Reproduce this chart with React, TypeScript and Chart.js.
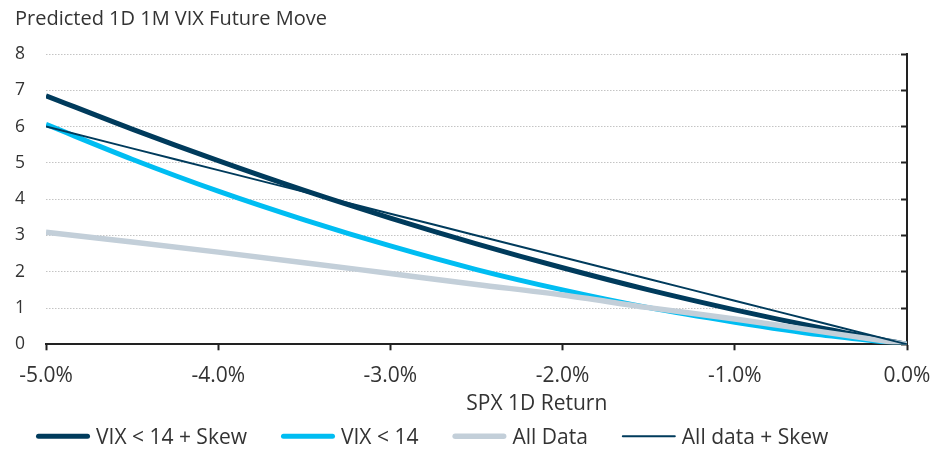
import { useEffect, useRef } from "react";
import { Chart, registerables } from "chart.js";

Chart.register(...registerables);

const TITLE = "Predicted 1D 1M VIX Future Move";
const X_TITLE = "SPX 1D Return";

// SPX 1D return (%)
const returns = [-5, -4.5, -4, -3.5, -3, -2.5, -2, -1.5, -1, -0.5, 0];
const xTickValues = [-5, -4, -3, -2, -1, 0];

const seriesLabels = ["VIX < 14 + Skew", "VIX < 14", "All Data", "All data + Skew"];
const vixLowSkew = [6.85, 5.93, 5.06, 4.24, 3.48, 2.77, 2.11, 1.5, 0.95, 0.45, 0];
const vixLow = [6.06, 5.1, 4.22, 3.43, 2.71, 2.06, 1.5, 1.01, 0.61, 0.26, 0];
const allData = [3.09, 2.82, 2.54, 2.25, 1.95, 1.65, 1.36, 1.01, 0.7, 0.35, 0];
const allDataSkew = [6.0, 5.4, 4.8, 4.2, 3.6, 3.0, 2.4, 1.8, 1.2, 0.6, 0];

const FONT = "'Open Sans', 'Noto Sans', sans-serif";
const TEXT = "#333333";
const NAVY = "#003B5C";
const CYAN = "#00BDF2";
const GRAY = "#C3CFD9";
const AXIS = "#222222";

const customLegend = {
  id: "customLegend",
  afterDraw(chart: any) {
    const { ctx, chartArea } = chart;
    ctx.save();
    ctx.font = `21px ${FONT}`;
    ctx.fillStyle = TEXT;
    ctx.textBaseline = "alphabetic";
    ctx.textAlign = "center";
    ctx.fillText(X_TITLE, chartArea.left + (chartArea.right - chartArea.left) * 0.57, chartArea.bottom + 65.5);
    ctx.textAlign = "left";
    let x = 36;
    const lineY = chartArea.bottom + 92;
    const baseY = chartArea.bottom + 99.5;
    chart.data.datasets.forEach((ds: any) => {
      ctx.beginPath();
      ctx.strokeStyle = ds.borderColor;
      ctx.lineWidth = ds.borderWidth;
      ctx.lineCap = "round";
      const half = ds.borderWidth / 2;
      ctx.moveTo(x + half, lineY);
      ctx.lineTo(x + 54 - half, lineY);
      ctx.stroke();
      ctx.fillStyle = TEXT;
      ctx.fillText(ds.label, x + 60, baseY);
      x += 60 + ctx.measureText(ds.label).width + 34;
    });
    ctx.restore();
  },
};

export default function App() {
  const ref = useRef<HTMLCanvasElement>(null);
  useEffect(() => {
    document.body.style.margin = "0";
    const mk = (ys: number[]) => returns.map((x, i) => ({ x, y: ys[i] }));
    const chart = new Chart(ref.current!, {
      type: "line",
      data: {
        datasets: [
          { label: seriesLabels[0], data: mk(vixLowSkew), borderColor: NAVY, borderWidth: 5, order: 3 },
          { label: seriesLabels[1], data: mk(vixLow), borderColor: CYAN, borderWidth: 5, order: 2 },
          { label: seriesLabels[2], data: mk(allData), borderColor: GRAY, borderWidth: 5.5, order: 1 },
          { label: seriesLabels[3], data: mk(allDataSkew), borderColor: NAVY, borderWidth: 2, order: 0 },
        ],
      },
      options: {
        animation: false,
        responsive: false,
        layout: { padding: { left: 15, right: 0, top: 0, bottom: 47.5 } },
        elements: {
          point: { radius: 0 },
          line: { cubicInterpolationMode: "monotone", fill: false },
        },
        plugins: {
          legend: { display: false },
          tooltip: { enabled: false },
          title: {
            display: true,
            text: TITLE,
            align: "start",
            color: TEXT,
            font: { family: FONT, size: 20, weight: "normal" },
            padding: { top: 7, bottom: 23 },
          },
        },
        scales: {
          x: {
            type: "linear",
            min: -5,
            max: 0,
            afterBuildTicks: (s: any) => {
              s.ticks = xTickValues.map((v) => ({ value: v }));
            },
            ticks: {
              callback: (v: any) => Number(v).toFixed(1) + "%",
              color: TEXT,
              font: { family: FONT, size: 21 },
              padding: 13,
              maxRotation: 0,
              autoSkip: false,
            },
            grid: { drawOnChartArea: false, drawTicks: true, tickLength: 6, tickColor: AXIS, tickWidth: 2 },
            border: { display: true, color: AXIS, width: 2 },
          },
          y: {
            min: 0,
            max: 8,
            afterFit: (s: any) => {
              s.width = 31;
            },
            ticks: { stepSize: 1, color: TEXT, font: { family: FONT, size: 17.5 }, padding: 21 },
            grid: { color: "#c4c4c4", drawTicks: false, lineWidth: 1, borderDash: [1.5, 1.5] },
            border: { display: false, dash: [1.5, 1.5] },
          },
          y2: {
            position: "right",
            min: 0,
            max: 8,
            afterFit: (s: any) => {
              s.width = 38;
            },
            ticks: { display: false, stepSize: 1 },
            grid: { drawOnChartArea: false, drawTicks: true, tickLength: -6, tickColor: AXIS, tickWidth: 2 },
            border: { display: true, color: AXIS, width: 2 },
          },
        },
      } as any,
      plugins: [customLegend],
    });
    return () => chart.destroy();
  }, []);
  return (
    <div style={{ width: 945, height: 449 }}>
      <canvas ref={ref} width={945} height={449} style={{ display: "block" }} />
    </div>
  );
}
